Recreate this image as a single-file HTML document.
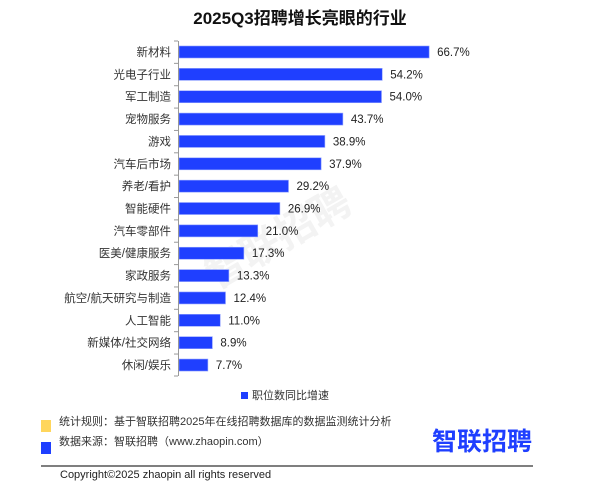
<!DOCTYPE html>
<html><head><meta charset="utf-8"><style>
body{margin:0;width:600px;height:484px;background:#fff;overflow:hidden;font-family:"Liberation Sans","Noto Sans CJK SC",sans-serif;}
</style></head><body>
<svg width="600" height="484" xmlns="http://www.w3.org/2000/svg" font-family="Liberation Sans, Noto Sans CJK SC, sans-serif">
<text x="300" y="24" text-anchor="middle" font-size="17" font-weight="bold" fill="#111">2025Q3招聘增长亮眼的行业</text>
<text x="285" y="250" text-anchor="middle" font-size="40" font-weight="bold" fill="#f3f3f3" transform="rotate(-30 285 250)">智联招聘</text>
<g id="bars"></g>
<line x1="178.5" y1="41" x2="178.5" y2="376" stroke="#999"/>
<rect x="241" y="392" width="7" height="7" fill="#1f3fff"/>
<text x="252" y="399" font-size="11" fill="#333">职位数同比增速</text>
<rect x="41" y="420" width="10" height="12" fill="#ffd65c"/>
<rect x="41" y="442" width="10" height="12" fill="#1f3fff"/>
<text x="59" y="425" font-size="11" fill="#333">统计规则：基于智联招聘2025年在线招聘数据库的数据监测统计分析</text>
<text x="59" y="445" font-size="11" fill="#333">数据来源：智联招聘（www.zhaopin.com）</text>
<text x="432" y="450" font-size="25" font-weight="bold" fill="#1f3fff">智联招聘</text>
<line x1="41" y1="466" x2="533" y2="466" stroke="#333" stroke-width="1.2"/>
<text x="60" y="478" font-size="11" fill="#222">Copyright©2025 zhaopin all rights reserved</text>
</svg>
<script>
var d=[["新材料",66.7],["光电子行业",54.2],["军工制造",54.0],["宠物服务",43.7],["游戏",38.9],["汽车后市场",37.9],["养老/看护",29.2],["智能硬件",26.9],["汽车零部件",21.0],["医美/健康服务",17.3],["家政服务",13.3],["航空/航天研究与制造",12.4],["人工智能",11.0],["新媒体/社交网络",8.9],["休闲/娱乐",7.7]];
var g=document.getElementById("bars"),s="";
d.forEach(function(r,i){var c=52+i*22.36,w=r[1]*3.75;
s+='<rect x="179" y="'+(c-6)+'" width="'+w+'" height="12" fill="#1f3fff" stroke="#8fa0ff" stroke-width="0.6"/>';
s+='<line x1="174" y1="'+(c-11)+'" x2="178" y2="'+(c-11)+'" stroke="#999"/>';
s+='<text x="171" y="'+(c+4)+'" text-anchor="end" font-size="11.5" fill="#333">'+r[0]+'</text>';
s+='<text x="'+(179+w+8)+'" y="'+(c+4)+'" font-size="11.5" fill="#222">'+r[1].toFixed(1)+'%</text>';});
s+='<line x1="174" y1="376" x2="178" y2="376" stroke="#999"/>';
g.innerHTML=s;
</script>
</body></html>
